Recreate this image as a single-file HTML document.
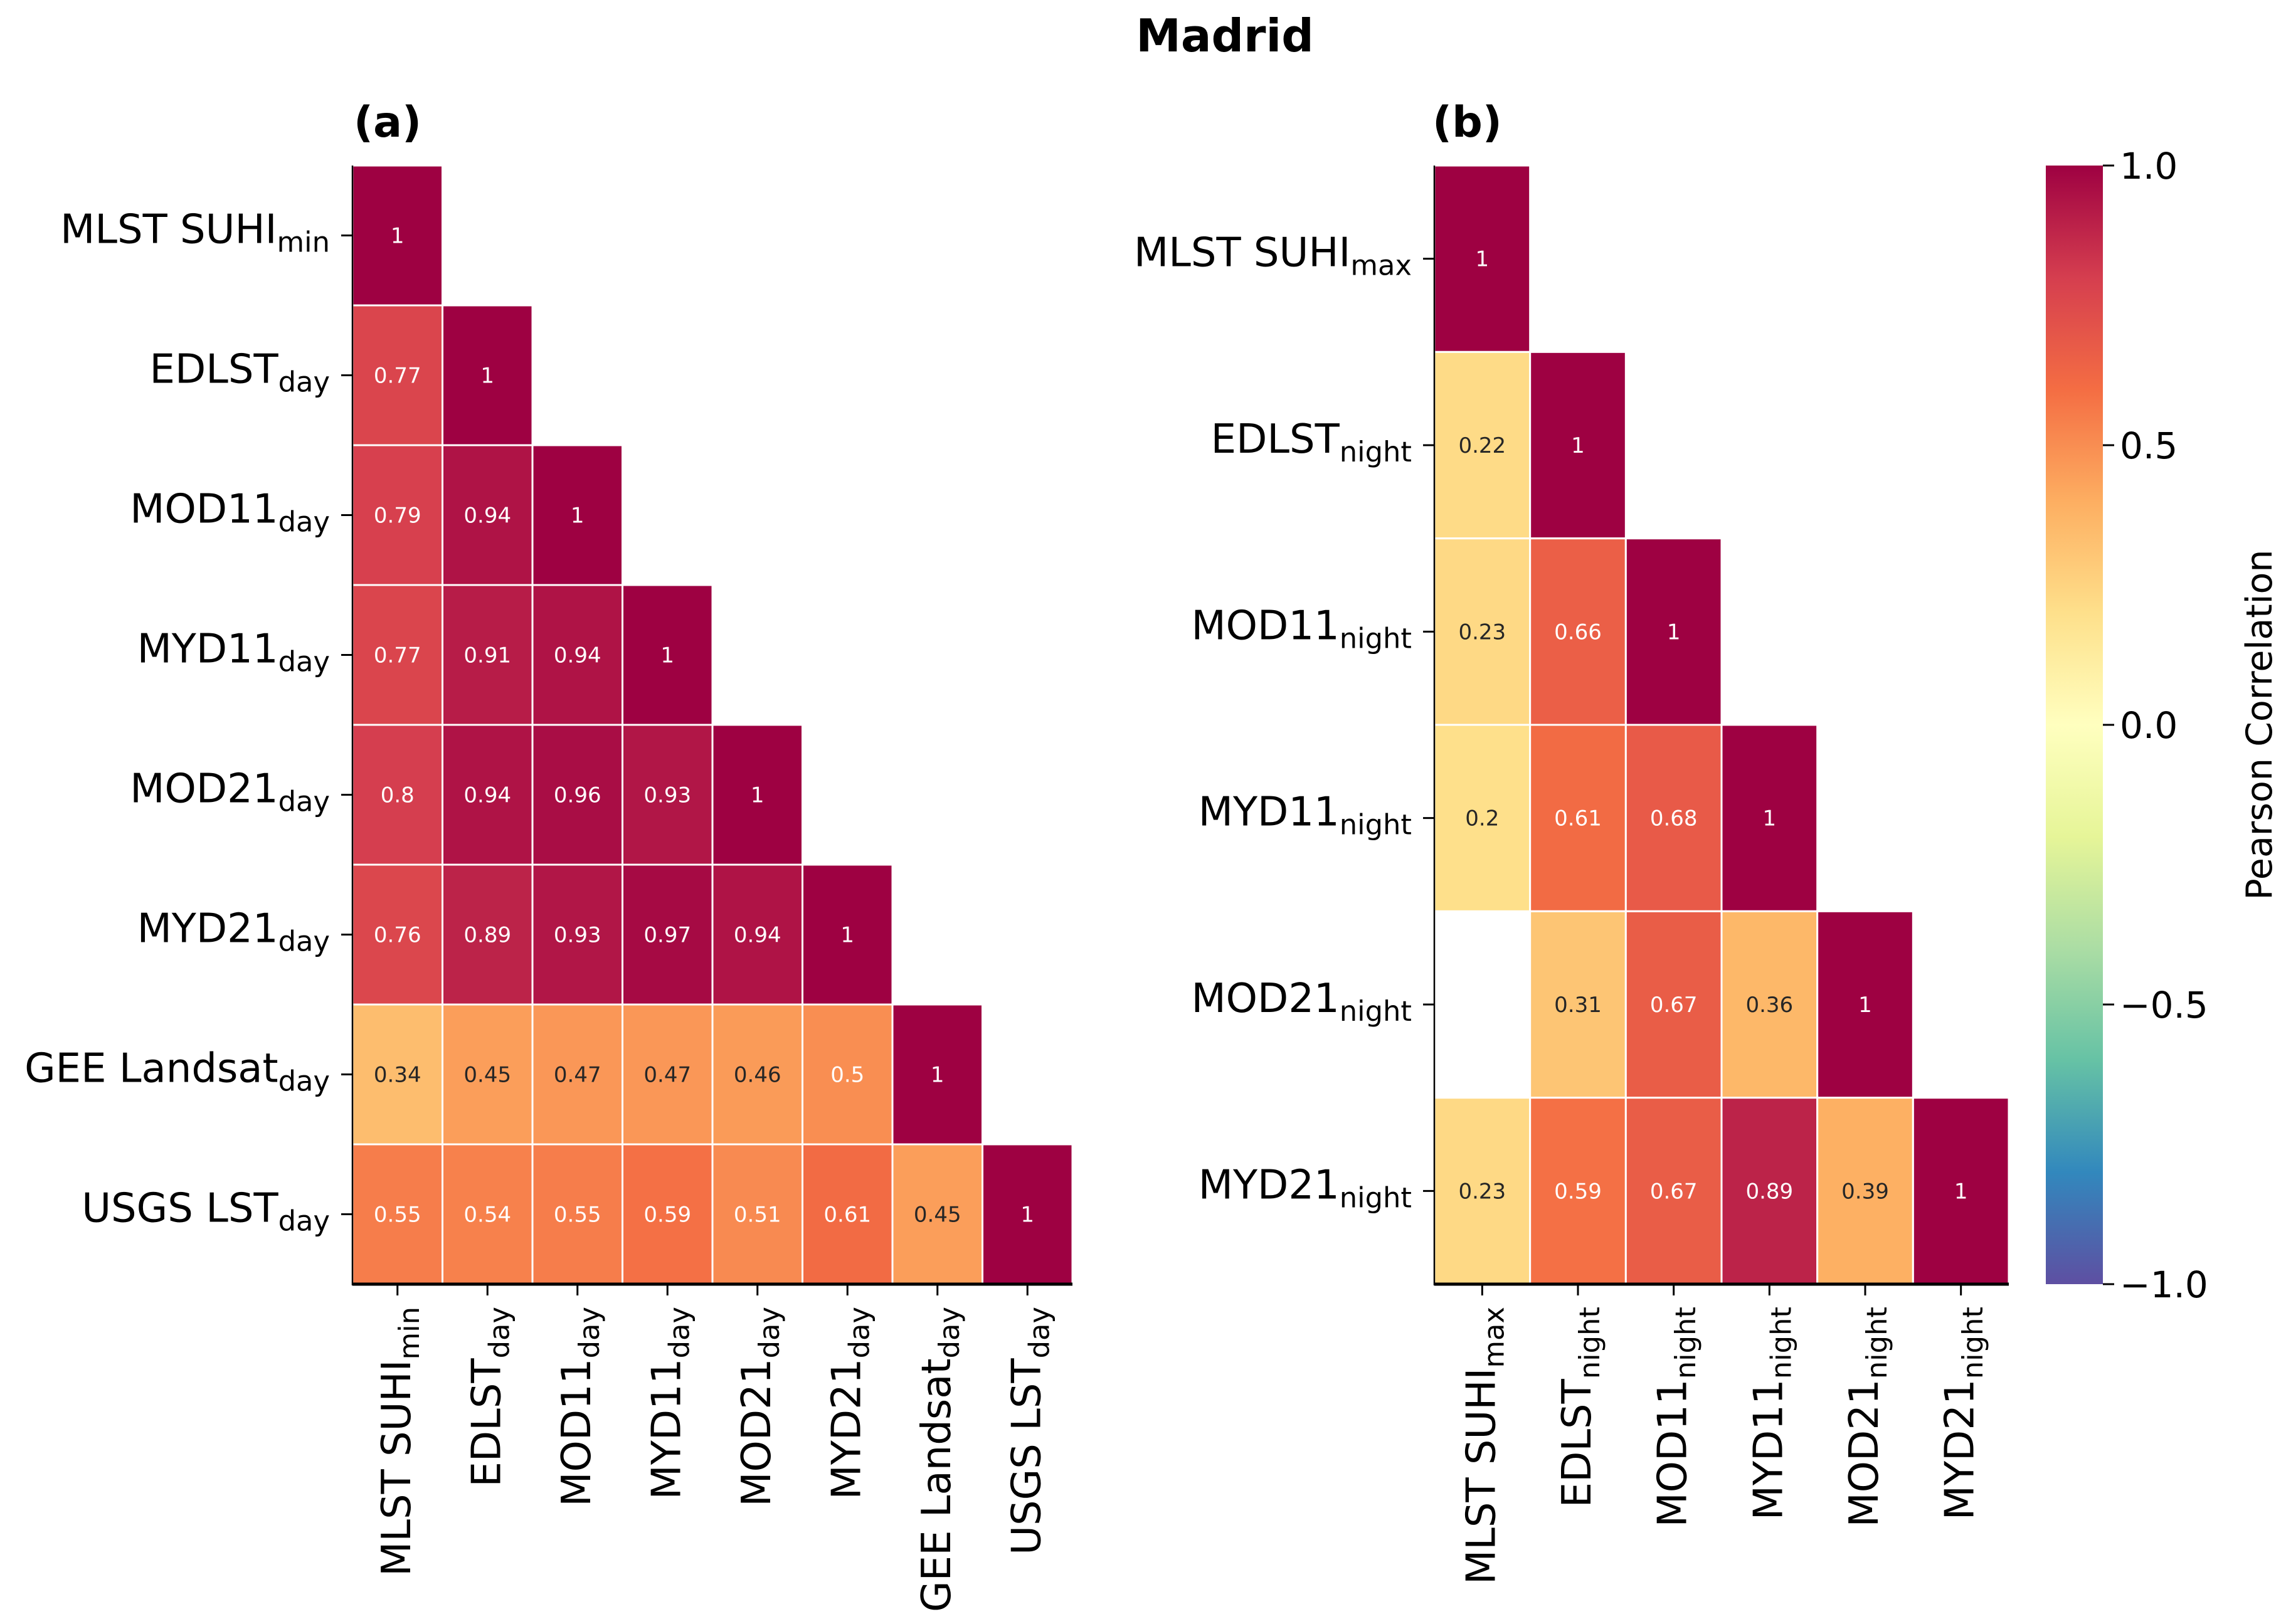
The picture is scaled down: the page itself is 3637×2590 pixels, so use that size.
<!DOCTYPE html>
<html><head><meta charset="utf-8"><style>
html,body{margin:0;padding:0;background:#fff;}
svg{display:block;font-family:"DejaVu Sans","Liberation Sans",sans-serif;}
</style></head><body>
<svg id="fig" width="3637" height="2590" viewBox="0 0 3637 2590" xmlns="http://www.w3.org/2000/svg">
<text x="1953" y="82" font-size="72" font-weight="bold" text-anchor="middle">Madrid</text>
<text x="564" y="218" font-size="68" font-weight="bold">(a)</text>
<text x="2284" y="218" font-size="68" font-weight="bold">(b)</text>
<defs>
<linearGradient id="cbgrad" x1="0" y1="1" x2="0" y2="0">
<stop offset="0" stop-color="#5e4fa2"/><stop offset="0.1" stop-color="#3288bd"/><stop offset="0.2" stop-color="#66c2a5"/><stop offset="0.3" stop-color="#abdda4"/><stop offset="0.4" stop-color="#e6f598"/><stop offset="0.5" stop-color="#ffffbf"/><stop offset="0.6" stop-color="#fee08b"/><stop offset="0.7" stop-color="#fdae61"/><stop offset="0.8" stop-color="#f46d43"/><stop offset="0.9" stop-color="#d53e4f"/><stop offset="1" stop-color="#9e0142"/>
</linearGradient>
</defs>
<g id="pa"></g>
<g id="pb"></g>
<g id="cb">
<rect x="3262" y="264" width="91" height="1784" fill="url(#cbgrad)"/>
</g>
<text transform="translate(3622,1156) rotate(-90)" font-size="57" text-anchor="middle">Pearson Correlation</text>
</svg>
<script>
const labelsA = [["MLST SUHI","min"],["EDLST","day"],["MOD11","day"],["MYD11","day"],["MOD21","day"],["MYD21","day"],["GEE Landsat","day"],["USGS LST","day"]];
const valuesA = [
 [1],
 [0.77,1],
 [0.79,0.94,1],
 [0.77,0.91,0.94,1],
 [0.8,0.94,0.96,0.93,1],
 [0.76,0.89,0.93,0.97,0.94,1],
 [0.34,0.45,0.47,0.47,0.46,0.5,1],
 [0.55,0.54,0.55,0.59,0.51,0.61,0.45,1]
];
const labelsB = [["MLST SUHI","max"],["EDLST","night"],["MOD11","night"],["MYD11","night"],["MOD21","night"],["MYD21","night"]];
const valuesB = [
 [1],
 [0.22,1],
 [0.23,0.66,1],
 [0.2,0.61,0.68,1],
 [null,0.31,0.67,0.36,1],
 [0.23,0.59,0.67,0.89,0.39,1]
];
const cbTicks = [1.0,0.5,0.0,-0.5,-1.0];
const cbTickLabels = ["1.0","0.5","0.0","\u22120.5","\u22121.0"];

const NS="http://www.w3.org/2000/svg";
const spec=["#9e0142","#d53e4f","#f46d43","#fdae61","#fee08b","#ffffbf","#e6f598","#abdda4","#66c2a5","#3288bd","#5e4fa2"];
function hex(h){return [1,3,5].map(i=>parseInt(h.substr(i,2),16));}
function cmap(v){
  let t=1-(v+1)/2; t=Math.max(0,Math.min(1,t));
  let p=t*10, i=Math.min(9,Math.floor(p)), f=p-i;
  let a=hex(spec[i]), b=hex(spec[i+1]);
  return a.map((c,k)=>Math.round(c+(b[k]-c)*f));
}
function lum(rgb){
  const c=rgb.map(x=>{x/=255;return x<=0.03928?x/12.92:Math.pow((x+0.055)/1.055,2.4);});
  return 0.2126*c[0]+0.7152*c[1]+0.0722*c[2];
}
function el(tag,attrs,parent){const e=document.createElementNS(NS,tag);for(const k in attrs)e.setAttribute(k,attrs[k]);parent.appendChild(e);return e;}
function labelText(parent,lab,attrs,fs){
  const t=el("text",attrs,parent);
  t.setAttribute("font-size",fs);
  t.appendChild(document.createTextNode(lab[0]));
  const s=el("tspan",{"font-size":fs*0.7,"dy":fs*0.22},t);
  s.textContent=lab[1];
  return t;
}
function heat(gid,labels,values,x0,y0,x1,y1){
  const g=document.getElementById(gid);
  const n=labels.length, cw=(x1-x0)/n, ch=(y1-y0)/n;
  const xs=i=>x0+i*cw, ys=j=>y0+j*ch;
  values.forEach((row,j)=>{
    row.forEach((v,i)=>{
      if(v===null||v===undefined) return;
      const c=cmap(v);
      const r=el("rect",{x:xs(i),y:ys(j),width:cw,height:ch,fill:`rgb(${c})`,stroke:"#fff","stroke-width":3},g);
      
      
      const t=el("text",{x:xs(i)+cw/2,y:ys(j)+ch/2+12,"font-size":34,"text-anchor":"middle",fill:lum(c)>0.408?"#262626":"#ffffff"},g);
      
      
      t.textContent=String(v);
    });
  });
  el("line",{x1:x0,y1:y0,x2:x0,y2:y1+2,stroke:"#000","stroke-width":2.5},g);
  el("line",{x1:x0,y1:y1,x2:x1,y2:y1,stroke:"#000","stroke-width":5},g);
  labels.forEach((lab,j)=>{
    const cy=ys(j)+ch/2;
    el("line",{x1:x0-18,y1:cy,x2:x0,y2:cy,stroke:"#000","stroke-width":3},g);
    const t=labelText(g,lab,{x:x0-36,y:cy+12,"text-anchor":"end"},64);
    
    
  });
  labels.forEach((lab,i)=>{
    const cx=xs(i)+cw/2;
    el("line",{x1:cx,y1:y1,x2:cx,y2:y1+18,stroke:"#000","stroke-width":3},g);
    const t=labelText(g,lab,{transform:`translate(${cx+20},${y1+36}) rotate(-90)`,"text-anchor":"end"},64);
    
    
  });
}
heat("pa",labelsA,valuesA,562,264,1710,2048);
heat("pb",labelsB,valuesB,2287,264,3203,2048);
const cb=document.getElementById("cb");
const cy=v=>264+(1-v)/2*1784;
cbTicks.forEach((v,k)=>{
  el("line",{x1:3353,y1:cy(v),x2:3371,y2:cy(v),stroke:"#000","stroke-width":3},cb);
  const t=el("text",{x:3380,y:cy(v)+21,"font-size":58},cb);
  
  
  t.textContent=cbTickLabels[k];
});
</script>
</body></html>
